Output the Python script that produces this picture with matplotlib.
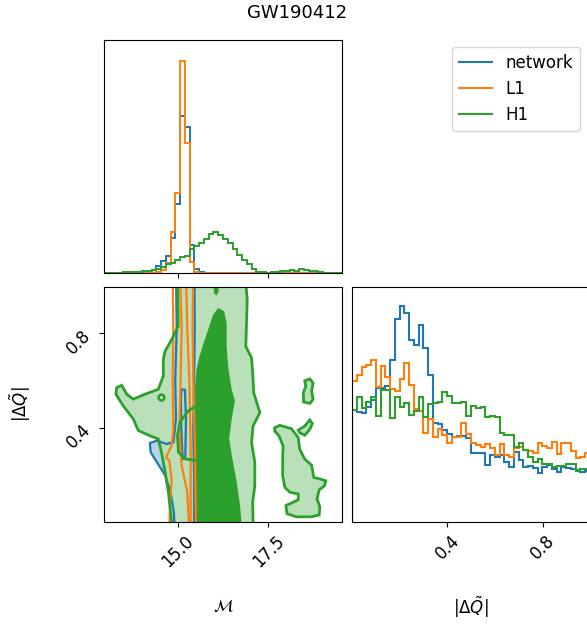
import numpy as np
import matplotlib
matplotlib.use("Agg")
import matplotlib.pyplot as plt
from matplotlib.patches import Polygon, Ellipse
from matplotlib.lines import Line2D

labels = ["network", "L1", "H1"]
colors = ["#1f77b4", "#ff7f0e", "#2ca02c"]
light_green = "#b9e0b9"
light_blue = "#b5d2e6"

mc_range = (12.96, 19.54)
dq_range = (0.0, 0.997)
mc_ticks = [15.0, 17.5]
dq_ticks = [0.4, 0.8]

# 1D chirp-mass histograms, 50 bins over mc_range
mc_hist_network = [0, 0, 0, 0.3, 0.5, 0.5, 0.8, 1.0, 1.2, 1.5,
                   3, 7, 12, 17, 35, 68, 156, 145, 28, 4,
                   0.5, 0, 0, 0, 0, 0, 0, 0, 0, 0,
                   0, 0, 0, 0, 0, 0, 0, 0, 0, 0,
                   0, 0, 0, 0, 0, 0, 0, 0, 0, 0]
mc_hist_l1 = [0, 0, 0, 0, 0, 0, 0, 0, 0, 0,
              0.3, 1, 3, 10, 41, 79, 210, 129, 11, 0.5,
              0, 0, 0, 0, 0, 0, 0, 0, 0, 0,
              0, 0, 0, 0, 0, 0, 0, 0, 0, 0,
              0, 0, 0, 0, 0, 0, 0, 0, 0, 0]
mc_hist_h1 = [0, 0.2, 0.3, 0.3, 0.5, 0.6, 1.0, 1.0, 1.5, 1.7,
              3.0, 4.0, 6.3, 8.7, 10.3, 13.0, 16.0, 17.0, 24.0, 26.5,
              30.0, 33.7, 39.0, 40.7, 37.3, 34.0, 29.7, 23.7, 18.0, 13.0,
              8.7, 3.7, 1.0, 0.5, 0.3, 0.5, 1.3, 2.3, 2.0, 3.0,
              2.3, 4.0, 2.7, 2.0, 1.5, 1.0, 0.3, 0, 0, 0]

# 1D |dQ| histograms, 50 bins over dq_range
dq_hist_network = [112, 110, 109, 115, 122, 134, 134, 136, 162, 203,
                   216, 209, 182, 177, 197, 174, 147, 99, 98, 92,
                   88, 85, 86, 86, 84, 69, 69, 69, 57, 67,
                   65, 67, 60, 55, 70, 62, 55, 56, 54, 49,
                   55, 57, 53, 50, 55, 54, 53, 52, 50, 51]
dq_hist_l1 = [141, 147, 155, 157, 162, 135, 156, 145, 133, 131,
              143, 159, 137, 113, 111, 89, 103, 85, 93, 87,
              79, 85, 85, 99, 88, 79, 77, 75, 78, 74,
              67, 78, 67, 65, 74, 75, 72, 71, 69, 79,
              76, 74, 80, 68, 79, 79, 71, 64, 65, 69]
dq_hist_h1 = [112, 125, 114, 120, 125, 106, 132, 132, 104, 125,
              115, 119, 107, 111, 125, 105, 118, 119, 120, 130,
              126, 119, 119, 120, 106, 116, 114, 115, 105, 106,
              105, 89, 87, 87, 75, 79, 72, 65, 60, 63,
              58, 58, 55, 56, 56, 58, 58, 51, 53, 53]

# 2D credible-region outlines, (chirp mass, |dQ|)
h1_outer = [(14.99, 1.07), (15.01, 0.831), (14.83, 0.774), (14.65, 0.725), (14.60, 0.690),
            (14.60, 0.620), (14.46, 0.563), (14.09, 0.542), (13.77, 0.521), (13.59, 0.542),
            (13.45, 0.580), (13.31, 0.570), (13.29, 0.542), (13.49, 0.493), (13.77, 0.437),
            (13.91, 0.388), (14.23, 0.366), (14.46, 0.352), (14.55, 0.296), (14.65, 0.212),
            (14.74, 0.127), (14.83, 0.001), (14.85, -0.05),
            (17.08, -0.05), (17.08, 0.006), (17.07, 0.084), (17.13, 0.154), (17.13, 0.253),
            (17.04, 0.337), (17.08, 0.407), (17.27, 0.464), (17.10, 0.548), (17.07, 0.632),
            (17.04, 0.696), (16.88, 0.745), (16.90, 0.843), (16.92, 0.942), (16.85, 1.07)]
h1_island_a = [(18.51, 0.599), (18.65, 0.607), (18.74, 0.590), (18.70, 0.555), (18.74, 0.520),
               (18.65, 0.503), (18.48, 0.509), (18.47, 0.548), (18.54, 0.576)]
h1_island_b = [(18.33, 0.390), (18.51, 0.407), (18.65, 0.433), (18.72, 0.418), (18.65, 0.393),
               (18.51, 0.368), (18.37, 0.379)]
h1_island_c = [(17.68, 0.400), (17.82, 0.410), (18.14, 0.396), (18.33, 0.358), (18.37, 0.309),
               (18.51, 0.267), (18.70, 0.241), (18.76, 0.189), (18.94, 0.182), (19.09, 0.175),
               (19.06, 0.154), (18.91, 0.137), (18.85, 0.098), (18.93, 0.063), (18.91, 0.030),
               (18.70, 0.022), (18.28, 0.022), (18.02, 0.035), (17.99, 0.070), (18.19, 0.084),
               (18.33, 0.095), (18.33, 0.119), (18.10, 0.126), (17.96, 0.147), (17.90, 0.196),
               (17.90, 0.267), (17.91, 0.323), (17.80, 0.365), (17.68, 0.386)]
h1_hole = (14.55, 0.528)
h1_inner = [(16.12, 0.908), (15.98, 0.880), (15.84, 0.816), (15.70, 0.753), (15.59, 0.697),
            (15.52, 0.648), (15.48, 0.577), (15.47, 0.324), (15.47, -0.05),
            (16.79, -0.05), (16.72, 0.071), (16.63, 0.170), (16.51, 0.268), (16.42, 0.352),
            (16.49, 0.437), (16.58, 0.514), (16.49, 0.563), (16.40, 0.648), (16.35, 0.746),
            (16.35, 0.845), (16.28, 0.894)]
h1_inner_blob = [(15.98, 1.05), (16.12, 1.05), (16.13, 0.978), (16.07, 0.961), (16.00, 0.971)]
h1_ridge = [(15.52, 0.493), (15.29, 0.472), (15.06, 0.423), (14.99, 0.366), (15.02, 0.296),
            (15.20, 0.268), (15.47, 0.261)]

network_outer = [(14.95, 1.07), (14.97, 0.817), (14.93, 0.606), (14.95, 0.437), (14.88, 0.338),
                 (14.69, 0.331), (14.42, 0.345), (14.23, 0.335), (14.25, 0.296), (14.42, 0.254),
                 (14.65, 0.198), (14.80, 0.127), (14.89, 0.043), (14.92, -0.041),
                 (15.45, -0.041), (15.45, 0.184), (15.43, 0.395), (15.45, 0.606), (15.47, 0.817),
                 (15.46, 1.07)]
network_inner = [(15.106, 0.563), (15.198, 0.561), (15.226, 0.437), (15.207, 0.268),
                 (15.134, 0.268), (15.097, 0.395), (15.088, 0.521)]
l1_outer = [(14.857, 1.07), (14.876, 0.817), (14.857, 0.606), (14.876, 0.395), (14.83, 0.324),
            (14.673, 0.275), (14.765, 0.261), (14.83, 0.184), (14.784, 0.071), (14.765, -0.041),
            (15.502, -0.041), (15.474, 0.324), (15.428, 0.606), (15.41, 0.817), (15.428, 1.07)]
l1_inner = [(15.06, 1.07), (15.106, 0.817), (15.079, 0.606), (15.042, 0.395), (15.106, 0.24),
            (15.263, 0.127), (15.318, -0.041), (15.355, -0.041), (15.355, 0.324),
            (15.318, 0.606), (15.263, 0.817), (15.226, 1.07)]

fig = plt.figure(figsize=(5.87, 6.28), dpi=100)
W, H = 587.0, 628.0
ax_mc = fig.add_axes([104 / W, 1 - 273 / H, 238 / W, 233 / H])
ax_2d = fig.add_axes([104 / W, 1 - 522 / H, 238 / W, 235 / H])
ax_dq = fig.add_axes([352 / W, 1 - 522 / H, 238 / W, 235 / H])

# marginal histograms
mc_edges = np.linspace(mc_range[0], mc_range[1], 51)
dq_edges = np.linspace(dq_range[0], dq_range[1], 51)
for vals, c in zip([mc_hist_network, mc_hist_l1, mc_hist_h1], colors):
    ax_mc.stairs(vals, mc_edges, color=c, lw=1.4)
for vals, c in zip([dq_hist_network, dq_hist_l1, dq_hist_h1], colors):
    ax_dq.stairs(vals, dq_edges, color=c, lw=1.5)
ax_mc.set_xlim(mc_range)
ax_mc.set_ylim(0, 1.1 * max(max(mc_hist_l1), max(mc_hist_network)))
ax_mc.set_xticks(mc_ticks)
ax_mc.set_xticklabels([])
ax_mc.set_yticks([])
ax_dq.set_xlim(dq_range)
ax_dq.set_ylim(0, 1.09 * max(dq_hist_network))
ax_dq.set_xticks(dq_ticks)
ax_dq.set_yticks([])

# joint panel: fills first, outlines on top
ax_2d.add_patch(Polygon(network_outer, closed=True, fc=light_blue, ec="none"))
ax_2d.add_patch(Polygon(h1_outer, closed=True, fc=light_green, ec="none"))
for isl in [h1_island_a, h1_island_b, h1_island_c]:
    ax_2d.add_patch(Polygon(isl, closed=True, fc=light_green, ec="none"))
ax_2d.add_patch(Ellipse(h1_hole, 0.15, 0.024, fc="white", ec="none"))
ax_2d.add_patch(Polygon(h1_inner, closed=True, fc=colors[2], ec="none"))
ax_2d.add_patch(Polygon(h1_inner_blob, closed=True, fc=colors[2], ec="none"))

for poly in [network_outer, network_inner]:
    ax_2d.add_patch(Polygon(poly, closed=True, fill=False, ec=colors[0], lw=1.6))
for poly in [l1_outer, l1_inner]:
    ax_2d.add_patch(Polygon(poly, closed=True, fill=False, ec=colors[1], lw=1.6))
for poly in [h1_outer, h1_island_a, h1_island_b, h1_island_c]:
    ax_2d.add_patch(Polygon(poly, closed=True, fill=False, ec=colors[2], lw=2.0))
ax_2d.add_patch(Ellipse(h1_hole, 0.15, 0.024, fill=False, ec=colors[2], lw=2.0))
ax_2d.plot(*zip(*h1_ridge), color=colors[2], lw=2.0)

ax_2d.set_xlim(mc_range)
ax_2d.set_ylim(dq_range)
ax_2d.set_xticks(mc_ticks)
ax_2d.set_yticks(dq_ticks)

for ax in [ax_2d, ax_dq]:
    for lbl in ax.get_xticklabels():
        lbl.set_rotation(45)
        lbl.set_fontsize(12)
for lbl in ax_2d.get_yticklabels():
    lbl.set_rotation(45)
    lbl.set_fontsize(12)

ax_2d.set_xlabel(r"$\mathcal{M}$", fontsize=12)
ax_2d.xaxis.set_label_coords(0.5, -0.32)
ax_2d.set_ylabel(r"$|\Delta\tilde{Q}|$", fontsize=12)
ax_2d.yaxis.set_label_coords(-0.30, 0.5)
ax_dq.set_xlabel(r"$|\Delta\tilde{Q}|$", fontsize=12)
ax_dq.xaxis.set_label_coords(0.5, -0.31)

handles = [Line2D([], [], color=c, lw=1.5) for c in colors]
fig.legend(handles, labels, loc="upper right", bbox_to_anchor=(580 / W, 1 - 47 / H),
           fontsize=12, borderaxespad=0)
fig.text(0.506, 1 - 13 / H, "GW190412", ha="center", va="center", fontsize=13)

fig.savefig("out.png", dpi=100)
